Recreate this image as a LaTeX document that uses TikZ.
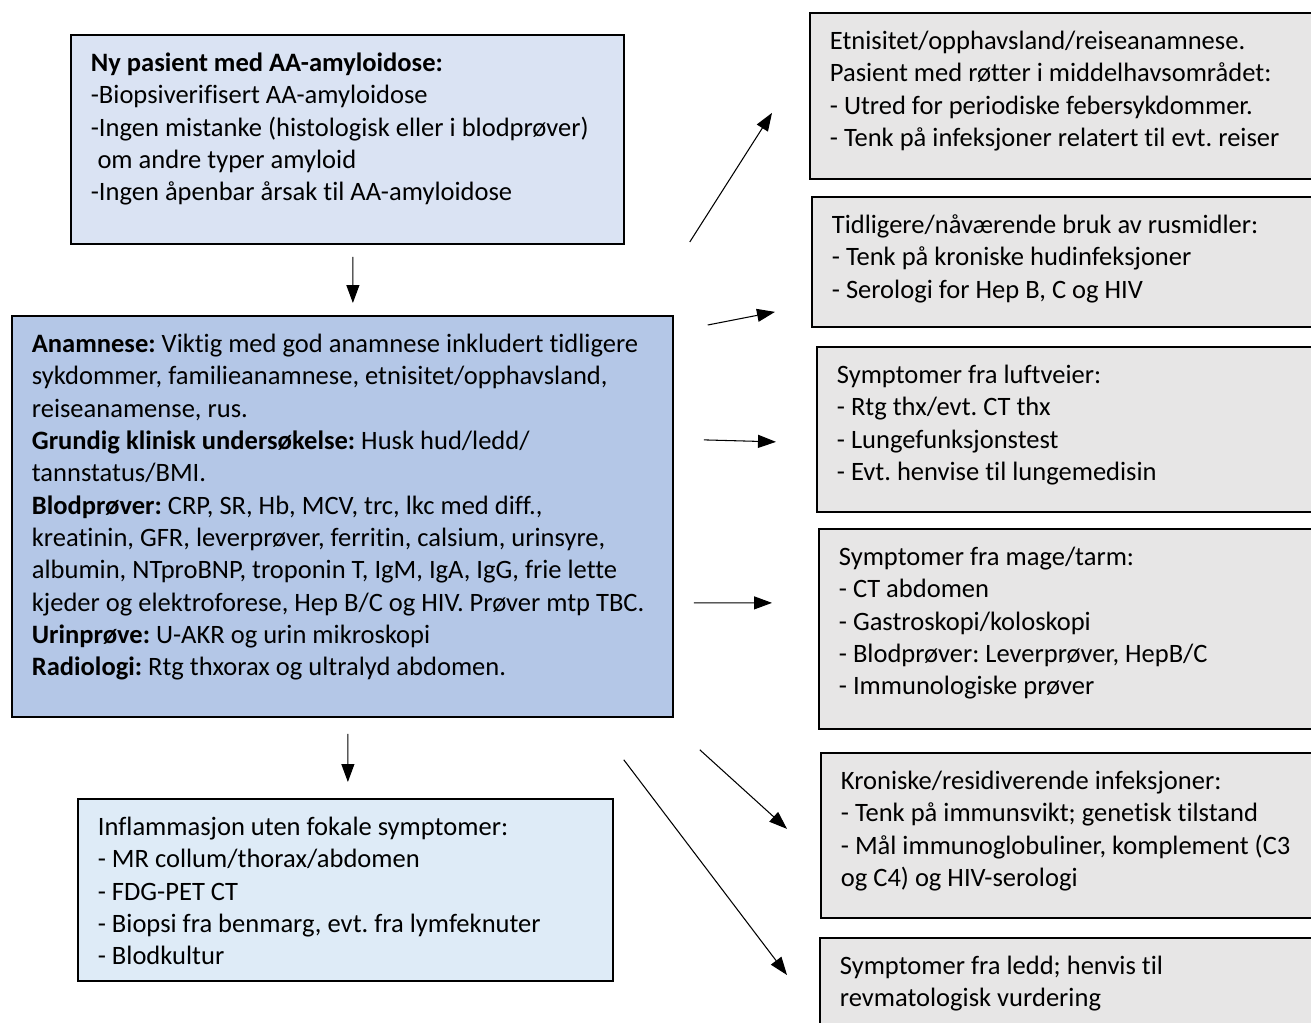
\documentclass[tikz,border=0pt]{standalone}
\usepackage{fontspec}
\setmainfont{Carlito}[Ligatures=NoCommon]
\usetikzlibrary{arrows.meta}

\definecolor{paleblue}{HTML}{DAE3F3}
\definecolor{midblue}{HTML}{B4C7E7}
\definecolor{lightblue}{HTML}{DEEBF7}
\definecolor{palegray}{HTML}{E7E6E6}

\frenchspacing
\newcommand{\boxfont}{\fontsize{15.1}{18.4}\selectfont}
\newcommand{\boxbody}[3]{\parbox[c][#2][t]{#1}{\raggedright\strut #3}}

\begin{document}
\begin{tikzpicture}[
        flowbox/.style={draw,line width=1pt,anchor=north west,inner xsep=0.4cm,inner ysep=0.28cm,font=\boxfont},
        startbox/.style={flowbox,fill=paleblue},
        mainbox/.style={flowbox,fill=midblue},
        endbox/.style={flowbox,fill=lightblue},
        sidebox/.style={flowbox,fill=palegray},
        arrow/.style={-{Triangle[length=0.36cm,width=0.26cm]},line width=0.6pt}
    ]

    \useasboundingbox (0,0) rectangle (26.22,-20.44);
    \clip (0,0) rectangle (26.22,-20.44);

    % left column
    \node[startbox] (nypasient) at (1.40,-0.68) {\boxbody{10.26cm}{3.62cm}{%
        \textbf{Ny pasient med AA-amyloidose:}\\
        -Biopsiverifisert AA-amyloidose\\
        -Ingen mistanke (histologisk eller i blodprøver)\\
        \hspace*{0.25em}om andre typer amyloid\\
        -Ingen åpenbar årsak til AA-amyloidose}};

    \node[mainbox] (anamnese) at (0.22,-6.30) {\boxbody{12.42cm}{7.46cm}{%
        \textbf{Anamnese:} Viktig med god anamnese inkludert tidligere\\
        sykdommer, familieanamnese, etnisitet/opphavsland,\\
        reiseanamense, rus.\\
        \textbf{Grundig klinisk undersøkelse:} Husk hud/ledd/\\
        tannstatus/BMI.\\
        \textbf{Blodprøver:} CRP, SR, Hb, MCV, trc, lkc med diff.,\\
        kreatinin, GFR, leverprøver, ferritin, calsium, urinsyre,\\
        albumin, NTproBNP, troponin T, IgM, IgA, IgG, frie lette\\
        kjeder og elektroforese, Hep B/C og HIV. Prøver mtp TBC.\\
        \textbf{Urinprøve:} U-AKR og urin mikroskopi\\
        \textbf{Radiologi:} Rtg thxorax og ultralyd abdomen.}};

    \node[endbox] (inflammasjon) at (1.54,-15.96) {\boxbody{9.90cm}{3.08cm}{%
        Inflammasjon uten fokale symptomer:\\
        - MR collum/thorax/abdomen\\
        - FDG-PET CT\\
        - Biopsi fra benmarg, evt. fra lymfeknuter\\
        - Blodkultur}};

    % right column
    \node[sidebox] (etnisitet) at (16.18,-0.24) {\boxbody{9.6cm}{2.76cm}{%
        Etnisitet/opphavsland/reiseanamnese.\\
        Pasient med røtter i middelhavsområdet:\\
        - Utred for periodiske febersykdommer.\\
        - Tenk på infeksjoner relatert til evt. reiser}};

    \node[sidebox] (rusmidler) at (16.22,-3.92) {\boxbody{9.6cm}{2.04cm}{%
        Tidligere/nåværende bruk av rusmidler:\\
        - Tenk på kroniske hudinfeksjoner\\
        - Serologi for Hep B, C og HIV}};

    \node[sidebox] (luftveier) at (16.32,-6.92) {\boxbody{9.6cm}{2.74cm}{%
        Symptomer fra luftveier:\\
        - Rtg thx/evt. CT thx\\
        - Lungefunksjonstest\\
        - Evt. henvise til lungemedisin}};

    \node[sidebox] (magetarm) at (16.36,-10.56) {\boxbody{9.6cm}{3.44cm}{%
        Symptomer fra mage/tarm:\\
        - CT abdomen\\
        - Gastroskopi/koloskopi\\
        - Blodprøver: Leverprøver, HepB/C\\
        - Immunologiske prøver}};

    \node[sidebox] (infeksjoner) at (16.40,-15.04) {\boxbody{9.6cm}{2.74cm}{%
        Kroniske/residiverende infeksjoner:\\
        - Tenk på immunsvikt; genetisk tilstand\\
        - Mål immunoglobuliner, komplement (C3\\
        og C4) og HIV-serologi}};

    \node[sidebox] (ledd) at (16.38,-18.74) {\boxbody{9.6cm}{2.44cm}{%
        Symptomer fra ledd; henvis til\\
        revmatologisk vurdering}};

    % arrows
    \draw[arrow,shorten <=0.24cm,shorten >=0.24cm]
        ([xshift=0.11cm]nypasient.south) -- ([xshift=0.21cm]anamnese.north);
    \draw[arrow,shorten <=0.32cm,shorten >=0.32cm]
        ([xshift=0.11cm]anamnese.south) -- ([xshift=0.05cm]inflammasjon.north);

    \draw[arrow] ([shift={(0.32,1.46)}]anamnese.north east) -- ([shift={(-0.74,-0.34)}]etnisitet.west);
    \draw[arrow] ([shift={(0.68,-0.20)}]anamnese.north east) -- ([shift={(-0.72,-1.00)}]rusmidler.west);
    \draw[arrow] ([shift={(0.60,1.53)}]anamnese.east) -- ([shift={(-0.80,-0.25)}]luftveier.west);
    \draw[arrow] ([shift={(0.40,-1.73)}]anamnese.east) -- ([shift={(-0.92,0.52)}]magetarm.west);
    \draw[arrow] ([shift={(0.52,-0.64)}]anamnese.south east) -- ([shift={(-0.66,0.13)}]infeksjoner.west);
    \draw[arrow] ([shift={(-1.00,-0.84)}]anamnese.south east) -- ([shift={(-0.64,-0.76)}]ledd.north west);

\end{tikzpicture}
\end{document}
